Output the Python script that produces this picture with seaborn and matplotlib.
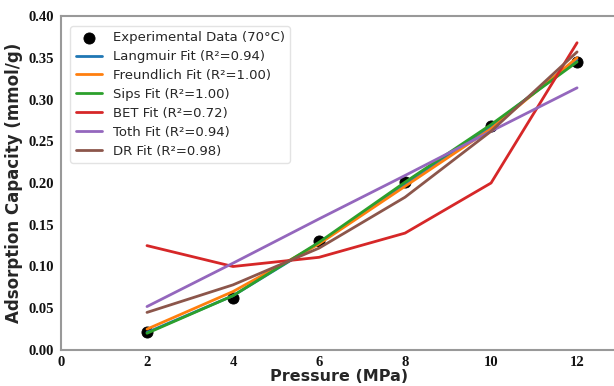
import matplotlib
matplotlib.use("Agg")
import matplotlib.pyplot as plt
import seaborn as sns
import pandas as pd

pressure = [2, 4, 6, 8, 10, 12]
experimental = [0.021, 0.062, 0.130, 0.201, 0.268, 0.345]
langmuir = [0.021, 0.065, 0.128, 0.199, 0.268, 0.348]
freundlich = [0.025, 0.070, 0.127, 0.196, 0.265, 0.350]
sips = [0.020, 0.065, 0.129, 0.201, 0.270, 0.345]
bet = [0.125, 0.100, 0.111, 0.140, 0.200, 0.368]
toth = [0.052, 0.104, 0.157, 0.209, 0.262, 0.314]
dr = [0.045, 0.078, 0.122, 0.183, 0.262, 0.357]

fit_labels = ["Langmuir Fit (R²=0.94)", "Freundlich Fit (R²=1.00)", "Sips Fit (R²=1.00)",
              "BET Fit (R²=0.72)", "Toth Fit (R²=0.94)", "DR Fit (R²=0.98)"]
fit_values = [langmuir, freundlich, sips, bet, toth, dr]
colors = sns.color_palette("tab10", 6)

sns.set_style("white")
plt.rcParams['font.family'] = ['DejaVu Sans']

fig = plt.figure(figsize=(6.14, 3.86), dpi=100)
ax = fig.add_axes([0.0993, 0.0933, 0.905, 0.8652])

sns.scatterplot(x=pressure, y=experimental, color="black", s=64, ax=ax,
                label="Experimental Data (70°C)", zorder=1.5, edgecolor="black")
for lab, vals, c in zip(fit_labels, fit_values, colors):
    sns.lineplot(x=pressure, y=vals, color=c, linewidth=2, ax=ax, label=lab, zorder=2)

ax.set_xlim(0, 12.92)
ax.set_ylim(0, 0.40)
ax.set_xticks([0, 2, 4, 6, 8, 10, 12])
ax.set_yticks([0.0, 0.05, 0.10, 0.15, 0.20, 0.25, 0.30, 0.35, 0.40])
ax.set_yticklabels([f"{v:.2f}" for v in ax.get_yticks()])
for t in ax.get_xticklabels() + ax.get_yticklabels():
    t.set_fontfamily("Liberation Serif")
    t.set_fontweight("bold")
    t.set_fontsize(10.5)
ax.tick_params(axis="both", direction="out", length=3, width=1, color="#999999", pad=2, labelcolor="#111111")
ax.tick_params(axis="x", pad=1.5)
for s in ax.spines.values():
    s.set_color("#999999")
    s.set_linewidth(1.5)

ax.set_xlabel("Pressure (MPa)", fontsize=11.5, fontweight="bold", labelpad=-0.3)
ax.set_ylabel("Adsorption Capacity (mmol/g)", fontsize=12, fontweight="bold", labelpad=4)

leg = ax.legend(loc="upper left", fontsize=9.5, frameon=True, borderpad=0.4,
                labelspacing=0.45, handlelength=2.0, bbox_to_anchor=(0.005, 0.99))
leg.get_frame().set_edgecolor("#dddddd")

fig.savefig("out.png", dpi=100)
